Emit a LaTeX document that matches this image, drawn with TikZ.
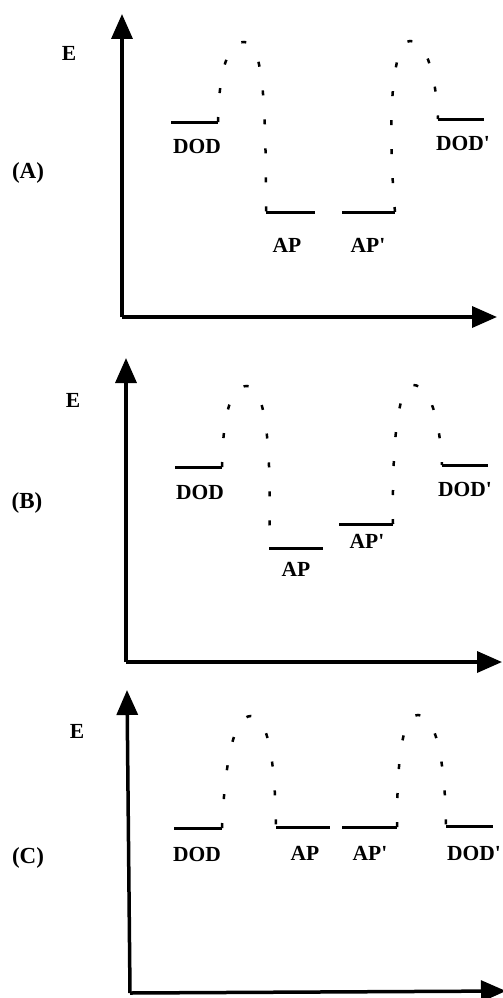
\documentclass[tikz,border=0pt]{standalone}
\usepackage{fontspec}
\setmainfont{Liberation Serif}
\usepackage{tikz}
\usetikzlibrary{arrows.meta}

\begin{document}
\begin{tikzpicture}[
		x=1pt, y=-1pt,
		font=\fontsize{21.5}{25}\selectfont\bfseries,
		eixo/.style={line width=3.5pt, -{Triangle[length=25pt,width=21pt]}},
		nivel/.style={line width=3pt},
		barreira/.style={line width=2.5pt, dash pattern=on 5pt off 24pt},
		rot/.style={inner sep=0pt},
		painel/.style={inner sep=0pt, font=\fontsize{23}{27}\selectfont\bfseries}
	]
	\useasboundingbox (0,0) rectangle (503,998);

	% (A)
	\coordinate (oA) at (122,317);
	\coordinate (yA) at (122,14);
	\coordinate (xA) at (497,317);
	\draw[eixo] (oA) -- (yA);
	\draw[eixo] (oA) -- (xA);
	\node[rot] (eA) at (69,53) {E};
	\node[painel] (pA) at (28,173) {(A)};

	\coordinate (a1) at (171,122); \coordinate (a2) at (218,122);
	\coordinate (a3) at (266,212); \coordinate (a4) at (315,212);
	\coordinate (a5) at (342,212); \coordinate (a6) at (395,212);
	\coordinate (a7) at (438,119); \coordinate (a8) at (484,119);
	\coordinate (pkA1) at (244,42);
	\coordinate (pkA2) at (410,41);
	\draw[nivel] (a1) -- (a2);
	\draw[nivel] (a3) -- (a4);
	\draw[nivel] (a5) -- (a6);
	\draw[nivel] (a7) -- (a8);
	\node[rot] (dodA) at (197,146) {DOD};
	\node[rot] (apA) at (287,245) {AP};
	\node[rot] (aplA) at (368,245) {AP\textquotesingle};
	\node[rot] (dodlA) at (463,143) {DOD\textquotesingle};
	\draw[barreira] (a2) .. controls (219,70) and (228,42) .. (pkA1)
		.. controls (262,42) and (266,90) .. (a3);
	\draw[barreira] (a6) .. controls (387,120) and (392,41) .. (pkA2)
		.. controls (428,41) and (436,80) .. (a7);

	% (B)
	\coordinate (oB) at (126,662);
	\coordinate (yB) at (126,358);
	\coordinate (xB) at (502,662);
	\draw[eixo] (oB) -- (yB);
	\draw[eixo] (oB) -- (xB);
	\node[rot] (eB) at (73,400) {E};
	\node[painel] (pB) at (27,503) {(B)};

	\coordinate (b1) at (175,467); \coordinate (b2) at (222,467);
	\coordinate (b3) at (269,548); \coordinate (b4) at (323,548);
	\coordinate (b5) at (339,524); \coordinate (b6) at (393,524);
	\coordinate (b7) at (442,465); \coordinate (b8) at (488,465);
	\coordinate (pkB1) at (247,386);
	\coordinate (pkB2) at (413,385);
	\draw[nivel] (b1) -- (b2);
	\draw[nivel] (b3) -- (b4);
	\draw[nivel] (b5) -- (b6);
	\draw[nivel] (b7) -- (b8);
	\node[rot] (dodB) at (200,492) {DOD};
	\node[rot] (apB) at (296,569) {AP};
	\node[rot] (aplB) at (367,541) {AP\textquotesingle};
	\node[rot] (dodlB) at (465,489) {DOD\textquotesingle};
	\draw[barreira] (b2) .. controls (223,410) and (232,386) .. (pkB1)
		.. controls (265,386) and (272,440) .. (b3);
	\draw[barreira] (b6) .. controls (392,440) and (398,385) .. (pkB2)
		.. controls (430,385) and (440,420) .. (b7);

	% (C)
	\coordinate (oC) at (130,993);
	\coordinate (yC) at (127,690);
	\coordinate (xC) at (506,991);
	\draw[eixo] (oC) -- (yC);
	\draw[eixo] (oC) -- (xC);
	\node[rot] (eC) at (77,731) {E};
	\node[painel] (pC) at (28,858) {(C)};

	\coordinate (c1) at (174,828); \coordinate (c2) at (222,828);
	\coordinate (c3) at (276,827); \coordinate (c4) at (330,827);
	\coordinate (c5) at (342,827); \coordinate (c6) at (397,827);
	\coordinate (c7) at (446,826); \coordinate (c8) at (493,826);
	\coordinate (pkC1) at (251,716);
	\coordinate (pkC2) at (418,715);
	\draw[nivel] (c1) -- (c2);
	\draw[nivel] (c3) -- (c4);
	\draw[nivel] (c5) -- (c6);
	\draw[nivel] (c7) -- (c8);
	\node[rot] (dodC) at (197,854) {DOD};
	\node[rot] (apC) at (305,853) {AP};
	\node[rot] (aplC) at (370,853) {AP\textquotesingle};
	\node[rot] (dodlC) at (474,853) {DOD\textquotesingle};
	\draw[barreira] (c2) .. controls (225,760) and (234,716) .. (pkC1)
		.. controls (268,716) and (275,760) .. (c3);
	\draw[barreira] (c6) .. controls (397,760) and (402,715) .. (pkC2)
		.. controls (436,715) and (445,760) .. (c7);
\end{tikzpicture}
\end{document}
